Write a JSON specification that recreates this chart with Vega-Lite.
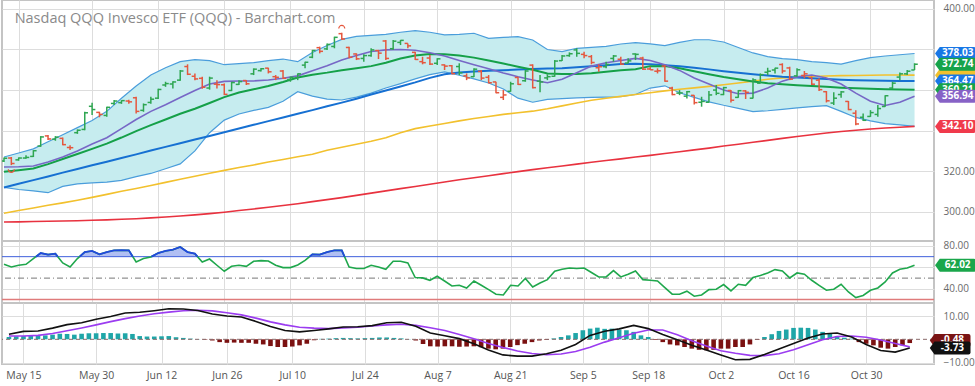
{
"$schema": "https://vega.github.io/schema/vega-lite/v6.json",
"padding": {"left": -2, "top": -1, "right": 0, "bottom": 0},
"background": "white",
"spacing": 0,
"bounds": "flush",
"config": {
  "font": "Open Sans",
  "view": {"stroke": "#c4c4c4", "strokeWidth": 2},
  "axis": {"domain": false, "ticks": false, "gridColor": "#dddddd", "gridWidth": 1, "labelFont": "Open Sans", "labelFontSize": 10, "labelColor": "#6a6a6a"}
},
"datasets": {
"ohlc": [
{"i":-2,"o":325.0,"h":326.8,"l":324.6,"c":326.4,"dir":"up"},
{"i":-1,"o":326.5,"h":327.0,"l":323.0,"c":323.8,"dir":"down"},
{"i":0,"o":325.6,"h":326.8,"l":325.2,"c":326.5,"dir":"up"},
{"i":1,"o":326.5,"h":327.9,"l":326.1,"c":326.8,"dir":"up"},
{"i":2,"o":327.3,"h":330.4,"l":327.0,"c":330.1,"dir":"up"},
{"i":3,"o":332.4,"h":337.3,"l":332.0,"c":336.9,"dir":"up"},
{"i":4,"o":337.4,"h":337.8,"l":335.4,"c":335.9,"dir":"down"},
{"i":5,"o":335.8,"h":337.3,"l":335.0,"c":336.8,"dir":"up"},
{"i":6,"o":336.2,"h":336.6,"l":332.8,"c":333.1,"dir":"down"},
{"i":7,"o":331.7,"h":332.8,"l":330.4,"c":331.6,"dir":"down"},
{"i":8,"o":339.0,"h":340.6,"l":338.4,"c":340.2,"dir":"up"},
{"i":9,"o":340.6,"h":349.3,"l":340.2,"c":348.8,"dir":"up"},
{"i":10,"o":352.0,"h":353.7,"l":347.7,"c":350.4,"dir":"up"},
{"i":11,"o":349.0,"h":349.3,"l":346.6,"c":348.0,"dir":"down"},
{"i":12,"o":347.5,"h":351.8,"l":346.8,"c":351.5,"dir":"up"},
{"i":13,"o":353.4,"h":355.1,"l":352.6,"c":354.6,"dir":"up"},
{"i":14,"o":353.8,"h":355.0,"l":353.2,"c":354.8,"dir":"up"},
{"i":15,"o":354.6,"h":355.2,"l":353.3,"c":354.2,"dir":"down"},
{"i":16,"o":356.2,"h":356.7,"l":348.5,"c":349.5,"dir":"down"},
{"i":17,"o":350.0,"h":353.4,"l":349.3,"c":352.8,"dir":"up"},
{"i":18,"o":353.9,"h":356.7,"l":353.3,"c":355.5,"dir":"up"},
{"i":19,"o":356.0,"h":360.6,"l":355.6,"c":360.3,"dir":"up"},
{"i":20,"o":362.5,"h":364.1,"l":361.6,"c":363.2,"dir":"up"},
{"i":21,"o":363.0,"h":364.3,"l":360.8,"c":364.0,"dir":"up"},
{"i":22,"o":364.9,"h":369.9,"l":364.6,"c":369.4,"dir":"up"},
{"i":23,"o":371.6,"h":372.7,"l":367.4,"c":367.8,"dir":"down"},
{"i":24,"o":366.8,"h":368.2,"l":364.9,"c":365.5,"dir":"down"},
{"i":25,"o":365.8,"h":366.6,"l":360.6,"c":361.4,"dir":"down"},
{"i":26,"o":361.0,"h":366.6,"l":360.2,"c":365.9,"dir":"up"},
{"i":27,"o":362.9,"h":364.9,"l":360.8,"c":362.7,"dir":"down"},
{"i":28,"o":362.6,"h":363.3,"l":357.5,"c":357.9,"dir":"down"},
{"i":29,"o":359.8,"h":364.1,"l":359.5,"c":363.7,"dir":"up"},
{"i":30,"o":362.8,"h":364.9,"l":362.5,"c":364.2,"dir":"up"},
{"i":31,"o":364.7,"h":364.9,"l":362.5,"c":363.1,"dir":"down"},
{"i":32,"o":368.0,"h":370.7,"l":367.4,"c":370.3,"dir":"up"},
{"i":33,"o":369.6,"h":370.9,"l":369.1,"c":370.5,"dir":"up"},
{"i":34,"o":370.8,"h":371.0,"l":368.2,"c":369.0,"dir":"down"},
{"i":35,"o":366.6,"h":367.4,"l":364.9,"c":366.3,"dir":"down"},
{"i":36,"o":369.4,"h":369.9,"l":365.4,"c":365.8,"dir":"down"},
{"i":37,"o":365.2,"h":366.6,"l":364.1,"c":366.3,"dir":"up"},
{"i":38,"o":366.0,"h":368.2,"l":364.9,"c":368.0,"dir":"up"},
{"i":39,"o":372.3,"h":374.0,"l":370.7,"c":373.7,"dir":"up"},
{"i":40,"o":376.2,"h":379.8,"l":375.7,"c":379.5,"dir":"up"},
{"i":41,"o":380.9,"h":381.4,"l":378.1,"c":379.1,"dir":"down"},
{"i":42,"o":380.3,"h":383.0,"l":379.8,"c":382.5,"dir":"up"},
{"i":43,"o":381.5,"h":386.3,"l":380.6,"c":386.0,"dir":"up"},
{"i":44,"o":387.8,"h":388.3,"l":384.7,"c":385.2,"dir":"down"},
{"i":45,"o":381.0,"h":381.4,"l":375.7,"c":376.2,"dir":"down"},
{"i":46,"o":377.8,"h":378.1,"l":374.8,"c":375.4,"dir":"down"},
{"i":47,"o":375.6,"h":377.6,"l":374.0,"c":377.0,"dir":"up"},
{"i":48,"o":377.0,"h":380.6,"l":376.4,"c":379.8,"dir":"up"},
{"i":49,"o":379.5,"h":379.8,"l":375.3,"c":378.2,"dir":"down"},
{"i":50,"o":384.2,"h":384.7,"l":374.8,"c":375.6,"dir":"down"},
{"i":51,"o":380.4,"h":384.7,"l":379.8,"c":384.1,"dir":"up"},
{"i":52,"o":383.5,"h":384.7,"l":382.2,"c":384.5,"dir":"up"},
{"i":53,"o":383.0,"h":383.0,"l":380.6,"c":381.8,"dir":"down"},
{"i":54,"o":378.6,"h":378.9,"l":374.8,"c":375.1,"dir":"down"},
{"i":55,"o":374.0,"h":376.4,"l":372.7,"c":373.5,"dir":"down"},
{"i":56,"o":375.8,"h":377.3,"l":372.3,"c":372.8,"dir":"down"},
{"i":57,"o":373.2,"h":375.7,"l":372.3,"c":375.4,"dir":"up"},
{"i":58,"o":372.4,"h":372.7,"l":369.9,"c":371.8,"dir":"down"},
{"i":59,"o":372.0,"h":372.3,"l":367.8,"c":368.1,"dir":"down"},
{"i":60,"o":371.6,"h":373.2,"l":367.4,"c":368.5,"dir":"up"},
{"i":61,"o":367.0,"h":368.2,"l":364.9,"c":366.0,"dir":"down"},
{"i":62,"o":366.6,"h":370.7,"l":366.4,"c":370.3,"dir":"up"},
{"i":63,"o":369.2,"h":369.9,"l":364.9,"c":365.9,"dir":"down"},
{"i":64,"o":366.3,"h":367.4,"l":363.3,"c":363.6,"dir":"down"},
{"i":65,"o":364.0,"h":364.1,"l":358.4,"c":358.7,"dir":"down"},
{"i":66,"o":356.4,"h":360.0,"l":355.1,"c":357.6,"dir":"down"},
{"i":67,"o":359.4,"h":364.1,"l":359.2,"c":363.1,"dir":"up"},
{"i":68,"o":366.2,"h":366.6,"l":362.5,"c":362.8,"dir":"down"},
{"i":69,"o":364.6,"h":369.9,"l":364.1,"c":369.4,"dir":"up"},
{"i":70,"o":372.3,"h":372.7,"l":360.8,"c":361.2,"dir":"down"},
{"i":71,"o":364.4,"h":367.4,"l":358.9,"c":364.0,"dir":"up"},
{"i":72,"o":366.0,"h":367.8,"l":364.9,"c":366.6,"dir":"up"},
{"i":73,"o":366.8,"h":374.8,"l":366.6,"c":374.3,"dir":"up"},
{"i":74,"o":374.5,"h":377.3,"l":374.3,"c":376.8,"dir":"up"},
{"i":75,"o":377.0,"h":378.6,"l":376.4,"c":377.9,"dir":"up"},
{"i":76,"o":379.8,"h":380.6,"l":376.4,"c":378.1,"dir":"up"},
{"i":77,"o":377.6,"h":378.9,"l":375.7,"c":377.0,"dir":"down"},
{"i":78,"o":376.5,"h":377.3,"l":372.7,"c":373.6,"dir":"down"},
{"i":79,"o":371.0,"h":372.7,"l":369.0,"c":371.5,"dir":"down"},
{"i":80,"o":371.5,"h":374.0,"l":370.7,"c":372.6,"dir":"up"},
{"i":81,"o":375.6,"h":377.3,"l":374.0,"c":376.8,"dir":"up"},
{"i":82,"o":375.2,"h":376.4,"l":372.3,"c":372.8,"dir":"down"},
{"i":83,"o":373.3,"h":375.7,"l":373.2,"c":374.4,"dir":"up"},
{"i":84,"o":377.8,"h":378.1,"l":374.8,"c":377.6,"dir":"up"},
{"i":85,"o":375.8,"h":376.4,"l":369.9,"c":370.3,"dir":"down"},
{"i":86,"o":370.4,"h":371.5,"l":369.9,"c":370.0,"dir":"down"},
{"i":87,"o":369.3,"h":370.7,"l":368.2,"c":369.5,"dir":"down"},
{"i":88,"o":371.8,"h":372.3,"l":364.1,"c":364.4,"dir":"down"},
{"i":89,"o":361.0,"h":361.6,"l":357.5,"c":357.8,"dir":"down"},
{"i":90,"o":358.5,"h":360.0,"l":357.5,"c":358.6,"dir":"up"},
{"i":91,"o":357.0,"h":359.5,"l":355.9,"c":359.2,"dir":"up"},
{"i":92,"o":357.4,"h":357.5,"l":352.9,"c":353.8,"dir":"down"},
{"i":93,"o":354.0,"h":356.7,"l":351.8,"c":354.4,"dir":"up"},
{"i":94,"o":354.0,"h":359.5,"l":353.9,"c":357.6,"dir":"up"},
{"i":95,"o":360.0,"h":362.5,"l":357.5,"c":358.4,"dir":"up"},
{"i":96,"o":357.8,"h":361.6,"l":357.5,"c":361.2,"dir":"up"},
{"i":97,"o":359.8,"h":360.0,"l":353.9,"c":355.0,"dir":"down"},
{"i":98,"o":356.4,"h":360.0,"l":356.2,"c":359.7,"dir":"up"},
{"i":99,"o":359.6,"h":360.0,"l":355.6,"c":358.9,"dir":"down"},
{"i":100,"o":356.0,"h":365.8,"l":355.9,"c":365.0,"dir":"up"},
{"i":101,"o":363.4,"h":368.2,"l":363.3,"c":367.6,"dir":"up"},
{"i":102,"o":368.8,"h":371.0,"l":367.4,"c":369.3,"dir":"up"},
{"i":103,"o":369.9,"h":371.0,"l":368.2,"c":370.8,"dir":"up"},
{"i":104,"o":372.6,"h":373.2,"l":368.2,"c":369.4,"dir":"down"},
{"i":105,"o":370.9,"h":371.5,"l":364.9,"c":365.4,"dir":"down"},
{"i":106,"o":367.0,"h":370.7,"l":366.6,"c":370.0,"dir":"up"},
{"i":107,"o":367.2,"h":369.4,"l":365.8,"c":368.0,"dir":"down"},
{"i":108,"o":366.2,"h":366.6,"l":362.5,"c":362.9,"dir":"down"},
{"i":109,"o":364.9,"h":365.8,"l":359.5,"c":360.2,"dir":"down"},
{"i":110,"o":359.2,"h":359.5,"l":353.9,"c":354.7,"dir":"down"},
{"i":111,"o":353.6,"h":358.9,"l":352.6,"c":356.0,"dir":"up"},
{"i":112,"o":357.8,"h":359.5,"l":356.2,"c":359.1,"dir":"up"},
{"i":113,"o":354.4,"h":354.6,"l":350.1,"c":350.4,"dir":"down"},
{"i":114,"o":348.6,"h":350.1,"l":342.7,"c":343.3,"dir":"down"},
{"i":115,"o":346.6,"h":348.5,"l":344.7,"c":345.1,"dir":"up"},
{"i":116,"o":347.0,"h":350.1,"l":346.8,"c":348.9,"dir":"up"},
{"i":117,"o":348.0,"h":352.6,"l":346.8,"c":350.9,"dir":"up"},
{"i":118,"o":351.9,"h":357.5,"l":351.8,"c":357.2,"dir":"up"},
{"i":119,"o":361.0,"h":364.1,"l":360.5,"c":363.4,"dir":"up"},
{"i":120,"o":366.4,"h":368.7,"l":364.9,"c":368.0,"dir":"up"},
{"i":121,"o":368.0,"h":369.9,"l":367.4,"c":369.3,"dir":"up"},
{"i":122,"o":369.9,"h":373.2,"l":369.9,"c":372.74,"dir":"up"}
],
"ln": [
{"i":-2,"bu":327,"bl":312,"ma20":319.7,"ma10":322.1,"ma50":312.0,"ma100":299.3,"ma200":295.0,"macd":2.2,"sig":1.4},
{"i":0,"bu":329,"bl":311,"ma20":320.5,"ma10":322.2,"ma50":313.8,"ma100":300.6,"ma200":295.05,"macd":3.4,"sig":1.44},
{"i":2,"bu":331,"bl":310.3,"ma20":321.3,"ma10":322.6,"ma50":315.6,"ma100":301.9,"ma200":295.2,"macd":3.6,"sig":1.7},
{"i":4,"bu":334.5,"bl":309.4,"ma20":323.5,"ma10":324.5,"ma50":317.4,"ma100":303.2,"ma200":295.3,"macd":4.8,"sig":2.5},
{"i":6,"bu":338,"bl":312.5,"ma20":326,"ma10":327,"ma50":319.3,"ma100":304.4,"ma200":295.45,"macd":6.3,"sig":3.7},
{"i":8,"bu":341.5,"bl":313.8,"ma20":328.5,"ma10":330,"ma50":321.1,"ma100":305.7,"ma200":295.6,"macd":7.1,"sig":4.9},
{"i":10,"bu":345,"bl":314.3,"ma20":331,"ma10":333.4,"ma50":322.9,"ma100":307.1,"ma200":295.8,"macd":8.6,"sig":6.2},
{"i":12,"bu":349.5,"bl":314.6,"ma20":333.6,"ma10":336.5,"ma50":324.7,"ma100":308.6,"ma200":296.0,"macd":9.8,"sig":7.6},
{"i":14,"bu":356,"bl":315.5,"ma20":336.6,"ma10":341,"ma50":326.5,"ma100":310.1,"ma200":296.3,"macd":11.3,"sig":8.9},
{"i":16,"bu":362,"bl":317.3,"ma20":339.8,"ma10":345.5,"ma50":328.3,"ma100":311.5,"ma200":296.6,"macd":11.6,"sig":10.0},
{"i":18,"bu":367.4,"bl":318.9,"ma20":342.7,"ma10":349.5,"ma50":330.2,"ma100":313,"ma200":297.0,"macd":12.3,"sig":11.0},
{"i":20,"bu":371,"bl":321.2,"ma20":345.5,"ma10":352.8,"ma50":332,"ma100":314.5,"ma200":297.4,"macd":13.1,"sig":11.7},
{"i":22,"bu":374,"bl":323.6,"ma20":348.3,"ma10":356.3,"ma50":333.8,"ma100":316,"ma200":297.9,"macd":13.0,"sig":12.3},
{"i":24,"bu":375,"bl":330,"ma20":350.8,"ma10":359.8,"ma50":335.6,"ma100":317.5,"ma200":298.5,"macd":12.4,"sig":12.5},
{"i":26,"bu":374.5,"bl":339,"ma20":353.6,"ma10":363,"ma50":337.4,"ma100":319,"ma200":299.1,"macd":10.9,"sig":12.2},
{"i":28,"bu":372.5,"bl":345.2,"ma20":356.5,"ma10":364.3,"ma50":339.2,"ma100":320.4,"ma200":299.8,"macd":10.0,"sig":11.4},
{"i":30,"bu":373,"bl":348.2,"ma20":358.8,"ma10":364.5,"ma50":341.1,"ma100":321.8,"ma200":300.6,"macd":9.6,"sig":10.5},
{"i":32,"bu":373.5,"bl":350,"ma20":360.4,"ma10":364.5,"ma50":342.9,"ma100":323.1,"ma200":301.4,"macd":7.7,"sig":9.1},
{"i":34,"bu":374.5,"bl":351.5,"ma20":362,"ma10":365,"ma50":344.7,"ma100":324.5,"ma200":302.2,"macd":5.5,"sig":7.5},
{"i":36,"bu":375.3,"bl":354.5,"ma20":364,"ma10":365.8,"ma50":346.5,"ma100":325.8,"ma200":303.1,"macd":3.8,"sig":6.2},
{"i":38,"bu":374,"bl":359.2,"ma20":366.2,"ma10":367,"ma50":348.3,"ma100":327.1,"ma200":304.0,"macd":3.2,"sig":5.2},
{"i":40,"bu":378.5,"bl":357,"ma20":367.6,"ma10":369.5,"ma50":350.1,"ma100":328.4,"ma200":305.0,"macd":3.8,"sig":4.8},
{"i":42,"bu":382,"bl":355.5,"ma20":368.6,"ma10":372,"ma50":352,"ma100":330.3,"ma200":306.0,"macd":4.5,"sig":4.6},
{"i":44,"bu":385,"bl":355.1,"ma20":369.8,"ma10":374.8,"ma50":353.8,"ma100":331.8,"ma200":307.0,"macd":5.3,"sig":4.9},
{"i":46,"bu":386.5,"bl":356.5,"ma20":370.8,"ma10":377,"ma50":355.7,"ma100":333.3,"ma200":308.1,"macd":5.4,"sig":5.2},
{"i":48,"bu":387,"bl":358.5,"ma20":371.8,"ma10":379,"ma50":357.8,"ma100":334.8,"ma200":309.2,"macd":5.9,"sig":5.7},
{"i":50,"bu":387.5,"bl":361,"ma20":373.5,"ma10":379.8,"ma50":359.8,"ma100":336.5,"ma200":310.3,"macd":7.1,"sig":6.2},
{"i":52,"bu":388.5,"bl":363.2,"ma20":375.6,"ma10":380,"ma50":361.8,"ma100":339,"ma200":311.4,"macd":7.3,"sig":6.5},
{"i":54,"bu":389.3,"bl":365.5,"ma20":377,"ma10":379.6,"ma50":363.8,"ma100":341,"ma200":312.5,"macd":5.6,"sig":6.0},
{"i":56,"bu":388.5,"bl":367.6,"ma20":377.8,"ma10":378.4,"ma50":366,"ma100":342.3,"ma200":313.6,"macd":2.7,"sig":5.0},
{"i":58,"bu":387.2,"bl":369,"ma20":377.7,"ma10":376.8,"ma50":367.8,"ma100":343.5,"ma200":314.7,"macd":1.5,"sig":3.8},
{"i":60,"bu":387.5,"bl":367.3,"ma20":377,"ma10":374.6,"ma50":368.7,"ma100":344.8,"ma200":315.8,"macd":0.3,"sig":2.1},
{"i":62,"bu":388,"bl":365.5,"ma20":376,"ma10":372.5,"ma50":369.2,"ma100":346,"ma200":316.8,"macd":-1.9,"sig":0.2},
{"i":64,"bu":385.5,"bl":363.5,"ma20":374.6,"ma10":370.5,"ma50":369.5,"ma100":347,"ma200":317.8,"macd":-4.6,"sig":-1.8},
{"i":66,"bu":386,"bl":360.5,"ma20":373.1,"ma10":368.4,"ma50":369.8,"ma100":348,"ma200":318.8,"macd":-6.7,"sig":-3.5},
{"i":68,"bu":386.3,"bl":356,"ma20":371.5,"ma10":366.6,"ma50":370.1,"ma100":348.8,"ma200":319.8,"macd":-7.2,"sig":-5.0},
{"i":70,"bu":384.7,"bl":354,"ma20":370,"ma10":365,"ma50":370.4,"ma100":349.6,"ma200":320.8,"macd":-7.2,"sig":-6.1},
{"i":72,"bu":380,"bl":355.4,"ma20":368.2,"ma10":363.6,"ma50":370.6,"ma100":350.8,"ma200":321.7,"macd":-6.2,"sig":-6.6},
{"i":74,"bu":379,"bl":355.8,"ma20":367.9,"ma10":365.3,"ma50":370.8,"ma100":352.2,"ma200":322.6,"macd":-4.7,"sig":-6.3},
{"i":76,"bu":380.6,"bl":356.2,"ma20":367.9,"ma10":368.5,"ma50":371.2,"ma100":353.6,"ma200":323.5,"macd":-2.2,"sig":-5.2},
{"i":78,"bu":381,"bl":356.4,"ma20":368.3,"ma10":371.8,"ma50":371.7,"ma100":355,"ma200":324.4,"macd":1.7,"sig":-3.4},
{"i":80,"bu":381.5,"bl":356.5,"ma20":369,"ma10":373.5,"ma50":372.2,"ma100":356,"ma200":325.3,"macd":3.5,"sig":-1.2},
{"i":82,"bu":382.7,"bl":356.7,"ma20":369.8,"ma10":374.6,"ma50":372.8,"ma100":356.9,"ma200":326.1,"macd":4.5,"sig":0.7},
{"i":84,"bu":383.4,"bl":357.8,"ma20":370.3,"ma10":375.6,"ma50":373,"ma100":357.8,"ma200":327.0,"macd":6.0,"sig":2.6},
{"i":86,"bu":382.8,"bl":361,"ma20":371.8,"ma10":374.6,"ma50":372.7,"ma100":358.7,"ma200":327.8,"macd":4.6,"sig":4.0},
{"i":88,"bu":381.9,"bl":362.1,"ma20":371.8,"ma10":372.5,"ma50":372.2,"ma100":359.6,"ma200":328.7,"macd":2.1,"sig":4.0},
{"i":90,"bu":383.5,"bl":358.7,"ma20":370.8,"ma10":369.7,"ma50":371.8,"ma100":360.4,"ma200":329.6,"macd":-0.2,"sig":2.0},
{"i":92,"bu":384.8,"bl":356.4,"ma20":369.3,"ma10":366,"ma50":371,"ma100":361.1,"ma200":330.5,"macd":-2.5,"sig":-0.6},
{"i":94,"bu":384.8,"bl":354.2,"ma20":367.8,"ma10":363,"ma50":370.2,"ma100":361.8,"ma200":331.4,"macd":-4.6,"sig":-2.9},
{"i":96,"bu":383.7,"bl":352.5,"ma20":366.4,"ma10":360,"ma50":369.3,"ma100":362.6,"ma200":332.4,"macd":-6.7,"sig":-4.9},
{"i":98,"bu":381,"bl":351,"ma20":365.3,"ma10":358.2,"ma50":368.5,"ma100":363.5,"ma200":333.3,"macd":-8.8,"sig":-6.0},
{"i":100,"bu":378.3,"bl":349.4,"ma20":364.2,"ma10":358.5,"ma50":367.8,"ma100":364.4,"ma200":334.3,"macd":-8.6,"sig":-6.9},
{"i":102,"bu":376.5,"bl":349.8,"ma20":363.4,"ma10":361,"ma50":367.2,"ma100":365.3,"ma200":335.2,"macd":-6.5,"sig":-7.0},
{"i":104,"bu":375.5,"bl":350.5,"ma20":362.9,"ma10":364.4,"ma50":366.6,"ma100":366,"ma200":336.2,"macd":-4.2,"sig":-6.2},
{"i":106,"bu":375,"bl":351.2,"ma20":362.4,"ma10":366.5,"ma50":366.2,"ma100":366.4,"ma200":337.1,"macd":-1.8,"sig":-4.5},
{"i":108,"bu":374,"bl":351.8,"ma20":362,"ma10":367.4,"ma50":365.8,"ma100":366.7,"ma200":338.0,"macd":0.6,"sig":-2.3},
{"i":110,"bu":373.5,"bl":352.3,"ma20":361.6,"ma10":366,"ma50":365.4,"ma100":366.9,"ma200":338.8,"macd":2.3,"sig":-0.2},
{"i":112,"bu":372.8,"bl":349.5,"ma20":361.2,"ma10":363,"ma50":365.1,"ma100":367.1,"ma200":339.6,"macd":2.7,"sig":1.2},
{"i":114,"bu":374.5,"bl":346.5,"ma20":360.9,"ma10":358.5,"ma50":364.9,"ma100":367.2,"ma200":340.2,"macd":1.0,"sig":1.4},
{"i":116,"bu":376,"bl":344.8,"ma20":360.6,"ma10":354.5,"ma50":364.7,"ma100":367.3,"ma200":340.8,"macd":-2.2,"sig":0.9},
{"i":118,"bu":376.8,"bl":343.5,"ma20":360.4,"ma10":352.4,"ma50":364.6,"ma100":367.4,"ma200":341.3,"macd":-4.8,"sig":-0.3},
{"i":120,"bu":377.4,"bl":342.8,"ma20":360.3,"ma10":354,"ma50":364.5,"ma100":367.4,"ma200":341.7,"macd":-5.5,"sig":-1.8},
{"i":122,"bu":378.03,"bl":342.1,"ma20":360.21,"ma10":356.94,"ma50":364.47,"ma100":367.35,"ma200":342.1,"macd":-3.73,"sig":-3.25}
],
"osc": [
{"i":-2,"rsi":62.9,"hist":1.0},{"i":-1,"rsi":60.4,"hist":1.3},{"i":0,"rsi":62.0,"hist":1.4},{"i":1,"rsi":62.9,"hist":1.7},
{"i":2,"rsi":68.2,"hist":1.6},{"i":3,"rsi":73.4,"hist":1.7},{"i":4,"rsi":71.9,"hist":2.0},{"i":5,"rsi":72.8,"hist":2.4},
{"i":6,"rsi":64.1,"hist":2.3},{"i":7,"rsi":60.4,"hist":2.0},{"i":8,"rsi":68.2,"hist":2.4},{"i":9,"rsi":74.3,"hist":2.6},
{"i":10,"rsi":75.3,"hist":2.6},{"i":11,"rsi":72.2,"hist":2.7},{"i":12,"rsi":74.3,"hist":2.7},{"i":13,"rsi":75.9,"hist":2.5},
{"i":14,"rsi":76.0,"hist":2.6},{"i":15,"rsi":75.9,"hist":2.3},{"i":16,"rsi":65.0,"hist":1.4},{"i":17,"rsi":68.2,"hist":1.2},
{"i":18,"rsi":69.7,"hist":1.2},{"i":19,"rsi":73.4,"hist":1.3},{"i":20,"rsi":75.3,"hist":1.4},{"i":21,"rsi":76.5,"hist":0.9},
{"i":22,"rsi":79.0,"hist":0.6},{"i":23,"rsi":74.3,"hist":0.3},{"i":24,"rsi":72.8,"hist":0.1},{"i":25,"rsi":65.0,"hist":-0.2},
{"i":26,"rsi":67.8,"hist":-0.5},{"i":27,"rsi":62.0,"hist":-1.2},{"i":28,"rsi":56.4,"hist":-1.5},{"i":29,"rsi":61.0,"hist":-1.4},
{"i":30,"rsi":62.0,"hist":-1.5},{"i":31,"rsi":61.0,"hist":-1.5},{"i":32,"rsi":65.7,"hist":-1.9},{"i":33,"rsi":66.3,"hist":-2.2},
{"i":34,"rsi":66.0,"hist":-2.9},{"i":35,"rsi":62.0,"hist":-3.3},{"i":36,"rsi":59.8,"hist":-3.3},{"i":37,"rsi":59.8,"hist":-3.1},
{"i":38,"rsi":62.2,"hist":-2.6},{"i":39,"rsi":66.5,"hist":-1.9},{"i":40,"rsi":72.2,"hist":-0.4},{"i":41,"rsi":71.9,"hist":0.2},
{"i":42,"rsi":74.3,"hist":0.3},{"i":43,"rsi":75.9,"hist":0.5},{"i":44,"rsi":75.9,"hist":0.6},{"i":45,"rsi":60.4,"hist":0.5},
{"i":46,"rsi":58.9,"hist":0.4},{"i":47,"rsi":58.9,"hist":0.5},{"i":48,"rsi":62.0,"hist":0.6},{"i":49,"rsi":60.4,"hist":0.8},
{"i":50,"rsi":58.2,"hist":0.8},{"i":51,"rsi":65.7,"hist":0.6},{"i":52,"rsi":65.7,"hist":0.4},{"i":53,"rsi":64.1,"hist":0.1},
{"i":54,"rsi":50.5,"hist":-0.5},{"i":55,"rsi":50.2,"hist":-2.0},{"i":56,"rsi":48.0,"hist":-3.0},{"i":57,"rsi":51.7,"hist":-3.1},
{"i":58,"rsi":47.3,"hist":-3.0},{"i":59,"rsi":42.7,"hist":-3.0},{"i":60,"rsi":43.3,"hist":-3.2},{"i":61,"rsi":40.8,"hist":-3.1},
{"i":62,"rsi":47.3,"hist":-3.0},{"i":63,"rsi":43.3,"hist":-3.4},{"i":64,"rsi":39.3,"hist":-4.0},{"i":65,"rsi":35.0,"hist":-4.3},
{"i":66,"rsi":34.3,"hist":-4.0},{"i":67,"rsi":43.3,"hist":-3.3},{"i":68,"rsi":42.7,"hist":-2.5},{"i":69,"rsi":49.6,"hist":-1.9},
{"i":70,"rsi":41.8,"hist":-1.2},{"i":71,"rsi":45.5,"hist":-0.5},{"i":72,"rsi":48.6,"hist":-0.3},{"i":73,"rsi":56.4,"hist":0.4},
{"i":74,"rsi":58.2,"hist":1.0},{"i":75,"rsi":59.4,"hist":1.7},{"i":76,"rsi":58.9,"hist":2.7},{"i":77,"rsi":59.4,"hist":3.9},
{"i":78,"rsi":55.2,"hist":4.6},{"i":79,"rsi":51.1,"hist":5.0},{"i":80,"rsi":51.1,"hist":4.5},{"i":81,"rsi":57.0,"hist":4.6},
{"i":82,"rsi":51.1,"hist":4.2},{"i":83,"rsi":53.6,"hist":3.9},{"i":84,"rsi":56.7,"hist":3.2},{"i":85,"rsi":48.6,"hist":1.7},
{"i":86,"rsi":48.0,"hist":1.0},{"i":87,"rsi":47.3,"hist":-0.3},{"i":88,"rsi":41.2,"hist":-1.2},{"i":89,"rsi":35.0,"hist":-2.2},
{"i":90,"rsi":35.0,"hist":-2.6},{"i":91,"rsi":37.8,"hist":-3.3},{"i":92,"rsi":33.1,"hist":-4.0},{"i":93,"rsi":34.3,"hist":-4.5},
{"i":94,"rsi":39.3,"hist":-4.7},{"i":95,"rsi":39.6,"hist":-4.5},{"i":96,"rsi":44.0,"hist":-4.0},{"i":97,"rsi":38.1,"hist":-4.0},
{"i":98,"rsi":44.3,"hist":-3.3},{"i":99,"rsi":43.3,"hist":-3.3},{"i":100,"rsi":50.5,"hist":-2.2},{"i":101,"rsi":52.4,"hist":-0.3},
{"i":102,"rsi":54.8,"hist":1.0},{"i":103,"rsi":57.9,"hist":2.2},{"i":104,"rsi":56.7,"hist":3.6},{"i":105,"rsi":50.2,"hist":4.2},
{"i":106,"rsi":54.8,"hist":4.9},{"i":107,"rsi":53.6,"hist":5.0},{"i":108,"rsi":48.0,"hist":4.9},{"i":109,"rsi":43.3,"hist":4.2},
{"i":110,"rsi":38.7,"hist":3.2},{"i":111,"rsi":39.6,"hist":2.4},{"i":112,"rsi":44.3,"hist":1.4},{"i":113,"rsi":37.1,"hist":0.7},
{"i":114,"rsi":31.9,"hist":0.3},{"i":115,"rsi":33.8,"hist":-1.2},{"i":116,"rsi":38.7,"hist":-1.9},{"i":117,"rsi":40.8,"hist":-2.6},
{"i":118,"rsi":46.4,"hist":-3.6},{"i":119,"rsi":54.8,"hist":-4.0},{"i":120,"rsi":58.2,"hist":-3.3},{"i":121,"rsi":59.4,"hist":-2.6},
{"i":122,"rsi":62.02,"hist":-1.6}
],
"ob": [
{"seg":"a","i":2.35,"rsi":70},{"seg":"a","i":3,"rsi":73.4},{"seg":"a","i":4,"rsi":71.9},{"seg":"a","i":5,"rsi":72.8},{"seg":"a","i":5.32,"rsi":70},
{"seg":"b","i":8.3,"rsi":70},{"seg":"b","i":9,"rsi":74.3},{"seg":"b","i":10,"rsi":75.3},{"seg":"b","i":11,"rsi":72.2},{"seg":"b","i":12,"rsi":74.3},{"seg":"b","i":13,"rsi":75.9},{"seg":"b","i":14,"rsi":76.0},{"seg":"b","i":15,"rsi":75.9},{"seg":"b","i":15.54,"rsi":70},
{"seg":"c","i":18.08,"rsi":70},{"seg":"c","i":19,"rsi":73.4},{"seg":"c","i":20,"rsi":75.3},{"seg":"c","i":21,"rsi":76.5},{"seg":"c","i":22,"rsi":79.0},{"seg":"c","i":23,"rsi":74.3},{"seg":"c","i":24,"rsi":72.8},{"seg":"c","i":24.36,"rsi":70},
{"seg":"d","i":39.61,"rsi":70},{"seg":"d","i":40,"rsi":72.2},{"seg":"d","i":41,"rsi":71.9},{"seg":"d","i":42,"rsi":74.3},{"seg":"d","i":43,"rsi":75.9},{"seg":"d","i":44,"rsi":75.9},{"seg":"d","i":44.38,"rsi":70}
],
"tags": [
{"k":"ma100","v":367.35,"t":"367.35"},
{"k":"bbu","v":378.03,"t":"378.03"},
{"k":"last","v":372.74,"t":"372.74"},
{"k":"ma50","v":364.47,"t":"364.47"},
{"k":"bbm","v":360.21,"t":"360.21"},
{"k":"ma10","v":356.94,"t":"356.94"},
{"k":"ma200","v":342.10,"t":"342.10"},
{"k":"rsi","v":62.02,"t":"62.02"},
{"k":"hist","v":-0.48,"t":"-0.48"},
{"k":"macd","v":-3.73,"t":"-3.73"}
],
"hl": [
{"k":"hi","i":44,"v":388.3},
{"k":"lo","i":-1,"v":323.0}
]
},
"vconcat": [
{
 "width": 932, "height": 241,
 "resolve": {"axis": {"x": "independent", "y": "independent"}},
 "layer": [
  {"data": {"name": "ln"}, "mark": {"type": "area", "color": "#c6ecef", "opacity": 1},
   "encoding": {
    "x": {"field": "i", "type": "quantitative", "scale": {"domain": [-2.27, 124.65], "nice": false, "zero": false}, "axis": {"orient": "bottom", "values": [0,10,19,28,37,47,57,67,77,86,96,106,116], "labels": false, "grid": true, "title": null}},
    "y": {"field": "bu", "type": "quantitative", "scale": {"domain": [285.6, 404.4], "nice": false, "zero": false}, "axis": {"orient": "right", "values": [300,320,340,360,380,400], "labelExpr": "indexof([300,320,400], datum.value) >= 0 ? format(datum.value, '.2f') : ''", "grid": true, "title": null, "labelPadding": 9}},
    "y2": {"field": "bl"}}},
  {"data": {"name": "ln"}, "mark": {"type": "line", "color": "#4a9ddb", "strokeWidth": 1.2}, "encoding": {"x": {"field": "i", "type": "quantitative", "scale": {"domain": [-2.27, 124.65], "nice": false, "zero": false}, "axis": null}, "y": {"field": "bu", "type": "quantitative", "scale": {"domain": [285.6, 404.4], "nice": false, "zero": false}, "axis": null}}},
  {"data": {"name": "ln"}, "mark": {"type": "line", "color": "#4a9ddb", "strokeWidth": 1.2}, "encoding": {"x": {"field": "i", "type": "quantitative", "scale": {"domain": [-2.27, 124.65], "nice": false, "zero": false}, "axis": null}, "y": {"field": "bl", "type": "quantitative", "scale": {"domain": [285.6, 404.4], "nice": false, "zero": false}, "axis": null}}},
  {"data": {"name": "ln"}, "mark": {"type": "line", "color": "#e8323f", "strokeWidth": 1.6}, "encoding": {"x": {"field": "i", "type": "quantitative", "scale": {"domain": [-2.27, 124.65], "nice": false, "zero": false}, "axis": null}, "y": {"field": "ma200", "type": "quantitative", "scale": {"domain": [285.6, 404.4], "nice": false, "zero": false}, "axis": null}}},
  {"data": {"name": "ln"}, "mark": {"type": "line", "color": "#f2c12e", "strokeWidth": 1.6}, "encoding": {"x": {"field": "i", "type": "quantitative", "scale": {"domain": [-2.27, 124.65], "nice": false, "zero": false}, "axis": null}, "y": {"field": "ma100", "type": "quantitative", "scale": {"domain": [285.6, 404.4], "nice": false, "zero": false}, "axis": null}}},
  {"data": {"name": "ln"}, "mark": {"type": "line", "color": "#1670d2", "strokeWidth": 2}, "encoding": {"x": {"field": "i", "type": "quantitative", "scale": {"domain": [-2.27, 124.65], "nice": false, "zero": false}, "axis": null}, "y": {"field": "ma50", "type": "quantitative", "scale": {"domain": [285.6, 404.4], "nice": false, "zero": false}, "axis": null}}},
  {"data": {"name": "ln"}, "mark": {"type": "line", "color": "#15a048", "strokeWidth": 2}, "encoding": {"x": {"field": "i", "type": "quantitative", "scale": {"domain": [-2.27, 124.65], "nice": false, "zero": false}, "axis": null}, "y": {"field": "ma20", "type": "quantitative", "scale": {"domain": [285.6, 404.4], "nice": false, "zero": false}, "axis": null}}},
  {"data": {"name": "ln"}, "mark": {"type": "line", "color": "#7767c6", "strokeWidth": 1.6}, "encoding": {"x": {"field": "i", "type": "quantitative", "scale": {"domain": [-2.27, 124.65], "nice": false, "zero": false}, "axis": null}, "y": {"field": "ma10", "type": "quantitative", "scale": {"domain": [285.6, 404.4], "nice": false, "zero": false}, "axis": null}}},
  {"data": {"name": "ohlc"}, "mark": {"type": "rule", "strokeWidth": 1.5, "clip": true},
   "encoding": {"x": {"field": "i", "type": "quantitative", "scale": {"domain": [-2.27, 124.65], "nice": false, "zero": false}, "axis": null}, "y": {"field": "l", "type": "quantitative", "scale": {"domain": [285.6, 404.4], "nice": false, "zero": false}, "axis": null}, "y2": {"field": "h"}, "color": {"condition": {"test": "datum.dir == 'up'", "value": "#2ea651"}, "value": "#e5573e"}}},
  {"data": {"name": "ohlc"}, "mark": {"type": "point", "shape": "M-1,0L0,0", "size": 42, "filled": false, "strokeWidth": 1.5, "opacity": 1, "clip": true},
   "encoding": {"x": {"field": "i", "type": "quantitative", "scale": {"domain": [-2.27, 124.65], "nice": false, "zero": false}, "axis": null}, "y": {"field": "o", "type": "quantitative", "scale": {"domain": [285.6, 404.4], "nice": false, "zero": false}, "axis": null}, "color": {"condition": {"test": "datum.dir == 'up'", "value": "#2ea651"}, "value": "#e5573e"}}},
  {"data": {"name": "ohlc"}, "mark": {"type": "point", "shape": "M0,0L1,0", "size": 42, "filled": false, "strokeWidth": 1.5, "opacity": 1, "clip": true},
   "encoding": {"x": {"field": "i", "type": "quantitative", "scale": {"domain": [-2.27, 124.65], "nice": false, "zero": false}, "axis": null}, "y": {"field": "c", "type": "quantitative", "scale": {"domain": [285.6, 404.4], "nice": false, "zero": false}, "axis": null}, "color": {"condition": {"test": "datum.dir == 'up'", "value": "#2ea651"}, "value": "#e5573e"}}},
  {"data": {"name": "hl"}, "transform": [{"filter": "datum.k == 'hi'"}], "mark": {"type": "point", "shape": "M-1,-1.4A1,1,0,0,1,1,-1.4", "size": 36, "filled": false, "strokeWidth": 1.2, "opacity": 1, "color": "#e5573e"},
   "encoding": {"x": {"field": "i", "type": "quantitative", "scale": {"domain": [-2.27, 124.65], "nice": false, "zero": false}, "axis": null}, "y": {"field": "v", "type": "quantitative", "scale": {"domain": [285.6, 404.4], "nice": false, "zero": false}, "axis": null}}},
  {"data": {"name": "hl"}, "transform": [{"filter": "datum.k == 'lo'"}], "mark": {"type": "point", "shape": "M-1,1.4A1,1,0,0,0,1,1.4", "size": 36, "filled": false, "strokeWidth": 1.2, "opacity": 1, "color": "#e5573e"},
   "encoding": {"x": {"field": "i", "type": "quantitative", "scale": {"domain": [-2.27, 124.65], "nice": false, "zero": false}, "axis": null}, "y": {"field": "v", "type": "quantitative", "scale": {"domain": [285.6, 404.4], "nice": false, "zero": false}, "axis": null}}},
  {"data": {"values": [{}]}, "mark": {"type": "text", "text": "Nasdaq QQQ Invesco ETF (QQQ) - Barchart.com", "align": "left", "baseline": "alphabetic", "font": "Open Sans", "fontSize": 14.5, "color": "#8a8a8a"},
   "encoding": {"x": {"datum": -0.55, "type": "quantitative", "scale": {"domain": [-2.27, 124.65], "nice": false, "zero": false}, "axis": null}, "y": {"datum": 392.9, "type": "quantitative", "scale": {"domain": [285.6, 404.4], "nice": false, "zero": false}, "axis": null}}},
  {"data": {"name": "tags"}, "transform": [{"filter": {"field": "k", "oneOf": ["ma100","bbu","last","ma50"]}}],
   "mark": {"type": "point", "shape": "M-2.07,0L-1.6,-0.65L1.8,-0.65Q2,-0.65,2,-0.45L2,0.45Q2,0.65,1.8,0.65L-1.6,0.65Z", "size": 400, "filled": true, "opacity": 1, "strokeWidth": 0},
   "encoding": {"x": {"datum": 127.61, "type": "quantitative", "scale": {"domain": [-2.27, 124.65], "nice": false, "zero": false}, "axis": null}, "y": {"field": "v", "type": "quantitative", "scale": {"domain": [285.6, 404.4], "nice": false, "zero": false}, "axis": null},
    "color": {"field": "k", "type": "nominal", "legend": null, "scale": {"domain": ["ma100","bbu","last","ma50","bbm","ma10","ma200","rsi","hist","macd"], "range": ["#f2c12e","#1877e6","#16a34a","#1877e6","#16a34a","#8762c6","#f03a4c","#1aa64b","#7a1414","#111111"]}}}},
  {"data": {"name": "tags"}, "transform": [{"filter": {"field": "k", "oneOf": ["bbu","last","ma50"]}}],
   "mark": {"type": "text", "font": "Open Sans", "fontSize": 10, "fontWeight": "bold", "color": "white", "align": "center", "baseline": "middle"},
   "encoding": {"x": {"datum": 127.88, "type": "quantitative", "scale": {"domain": [-2.27, 124.65], "nice": false, "zero": false}, "axis": null}, "y": {"field": "v", "type": "quantitative", "scale": {"domain": [285.6, 404.4], "nice": false, "zero": false}, "axis": null}, "text": {"field": "t"}}},
  {"data": {"name": "tags"}, "transform": [{"filter": {"field": "k", "oneOf": ["bbm"]}}],
   "mark": {"type": "point", "shape": "M-2.07,0L-1.6,-0.65L1.8,-0.65Q2,-0.65,2,-0.45L2,0.45Q2,0.65,1.8,0.65L-1.6,0.65Z", "size": 400, "filled": true, "opacity": 1, "strokeWidth": 0},
   "encoding": {"x": {"datum": 127.61, "type": "quantitative", "scale": {"domain": [-2.27, 124.65], "nice": false, "zero": false}, "axis": null}, "y": {"field": "v", "type": "quantitative", "scale": {"domain": [285.6, 404.4], "nice": false, "zero": false}, "axis": null},
    "color": {"field": "k", "type": "nominal", "legend": null, "scale": {"domain": ["ma100","bbu","last","ma50","bbm","ma10","ma200","rsi","hist","macd"], "range": ["#f2c12e","#1877e6","#16a34a","#1877e6","#16a34a","#8762c6","#f03a4c","#1aa64b","#7a1414","#111111"]}}}},
  {"data": {"name": "tags"}, "transform": [{"filter": {"field": "k", "oneOf": ["bbm"]}}],
   "mark": {"type": "text", "font": "Open Sans", "fontSize": 10, "fontWeight": "bold", "color": "white", "align": "center", "baseline": "middle"},
   "encoding": {"x": {"datum": 127.88, "type": "quantitative", "scale": {"domain": [-2.27, 124.65], "nice": false, "zero": false}, "axis": null}, "y": {"field": "v", "type": "quantitative", "scale": {"domain": [285.6, 404.4], "nice": false, "zero": false}, "axis": null}, "text": {"field": "t"}}},
  {"data": {"name": "tags"}, "transform": [{"filter": {"field": "k", "oneOf": ["ma10","ma200"]}}],
   "mark": {"type": "point", "shape": "M-2.07,0L-1.6,-0.65L1.8,-0.65Q2,-0.65,2,-0.45L2,0.45Q2,0.65,1.8,0.65L-1.6,0.65Z", "size": 400, "filled": true, "opacity": 1, "strokeWidth": 0},
   "encoding": {"x": {"datum": 127.61, "type": "quantitative", "scale": {"domain": [-2.27, 124.65], "nice": false, "zero": false}, "axis": null}, "y": {"field": "v", "type": "quantitative", "scale": {"domain": [285.6, 404.4], "nice": false, "zero": false}, "axis": null},
    "color": {"field": "k", "type": "nominal", "legend": null, "scale": {"domain": ["ma100","bbu","last","ma50","bbm","ma10","ma200","rsi","hist","macd"], "range": ["#f2c12e","#1877e6","#16a34a","#1877e6","#16a34a","#8762c6","#f03a4c","#1aa64b","#7a1414","#111111"]}}}},
  {"data": {"name": "tags"}, "transform": [{"filter": {"field": "k", "oneOf": ["ma10","ma200"]}}],
   "mark": {"type": "text", "font": "Open Sans", "fontSize": 10, "fontWeight": "bold", "color": "white", "align": "center", "baseline": "middle"},
   "encoding": {"x": {"datum": 127.88, "type": "quantitative", "scale": {"domain": [-2.27, 124.65], "nice": false, "zero": false}, "axis": null}, "y": {"field": "v", "type": "quantitative", "scale": {"domain": [285.6, 404.4], "nice": false, "zero": false}, "axis": null}, "text": {"field": "t"}}}
 ]
},
{
 "width": 932, "height": 62,
 "resolve": {"axis": {"x": "independent", "y": "independent"}},
 "layer": [
  {"data": {"name": "ob"}, "mark": {"type": "area", "color": "#a9b8f2", "opacity": 0.9},
   "encoding": {
    "x": {"field": "i", "type": "quantitative", "scale": {"domain": [-2.27, 124.65], "nice": false, "zero": false}, "axis": {"orient": "bottom", "values": [0,10,19,28,37,47,57,67,77,86,96,106,116], "labels": false, "grid": true, "title": null}},
    "y": {"field": "rsi", "type": "quantitative", "scale": {"domain": [26.8, 84.6], "nice": false, "zero": false}, "axis": {"orient": "right", "values": [40,60,80], "labelExpr": "datum.value == 60 ? '' : format(datum.value, '.2f')", "grid": true, "title": null, "labelPadding": 9}},
    "y2": {"datum": 70}, "detail": {"field": "seg"}}},
  {"data": {"values": [{}]}, "mark": {"type": "rule", "color": "#3f5fdc", "strokeWidth": 1}, "encoding": {"y": {"datum": 70, "type": "quantitative", "scale": {"domain": [26.8, 84.6], "nice": false, "zero": false}, "axis": null}}},
  {"data": {"values": [{}]}, "mark": {"type": "rule", "color": "#777777", "strokeWidth": 1, "strokeDash": [6,3,1,3]}, "encoding": {"y": {"datum": 50, "type": "quantitative", "scale": {"domain": [26.8, 84.6], "nice": false, "zero": false}, "axis": null}}},
  {"data": {"values": [{}]}, "mark": {"type": "rule", "color": "#e07b7b", "strokeWidth": 1.5}, "encoding": {"y": {"datum": 30, "type": "quantitative", "scale": {"domain": [26.8, 84.6], "nice": false, "zero": false}, "axis": null}}},
  {"data": {"name": "osc"}, "mark": {"type": "line", "color": "#1fa74c", "strokeWidth": 1.6}, "encoding": {"x": {"field": "i", "type": "quantitative", "scale": {"domain": [-2.27, 124.65], "nice": false, "zero": false}, "axis": null}, "y": {"field": "rsi", "type": "quantitative", "scale": {"domain": [26.8, 84.6], "nice": false, "zero": false}, "axis": null}}},
  {"data": {"name": "ob"}, "mark": {"type": "line", "color": "#2148de", "strokeWidth": 1.8}, "encoding": {"x": {"field": "i", "type": "quantitative", "scale": {"domain": [-2.27, 124.65], "nice": false, "zero": false}, "axis": null}, "y": {"field": "rsi", "type": "quantitative", "scale": {"domain": [26.8, 84.6], "nice": false, "zero": false}, "axis": null}, "detail": {"field": "seg"}}},
  {"data": {"name": "tags"}, "transform": [{"filter": {"field": "k", "oneOf": ["rsi"]}}],
   "mark": {"type": "point", "shape": "M-2.07,0L-1.6,-0.65L1.8,-0.65Q2,-0.65,2,-0.45L2,0.45Q2,0.65,1.8,0.65L-1.6,0.65Z", "size": 400, "filled": true, "opacity": 1, "strokeWidth": 0},
   "encoding": {"x": {"datum": 127.61, "type": "quantitative", "scale": {"domain": [-2.27, 124.65], "nice": false, "zero": false}, "axis": null}, "y": {"field": "v", "type": "quantitative", "scale": {"domain": [26.8, 84.6], "nice": false, "zero": false}, "axis": null},
    "color": {"field": "k", "type": "nominal", "legend": null, "scale": {"domain": ["ma100","bbu","last","ma50","bbm","ma10","ma200","rsi","hist","macd"], "range": ["#f2c12e","#1877e6","#16a34a","#1877e6","#16a34a","#8762c6","#f03a4c","#1aa64b","#7a1414","#111111"]}}}},
  {"data": {"name": "tags"}, "transform": [{"filter": {"field": "k", "oneOf": ["rsi"]}}],
   "mark": {"type": "text", "font": "Open Sans", "fontSize": 10, "fontWeight": "bold", "color": "white", "align": "center", "baseline": "middle"},
   "encoding": {"x": {"datum": 127.88, "type": "quantitative", "scale": {"domain": [-2.27, 124.65], "nice": false, "zero": false}, "axis": null}, "y": {"field": "v", "type": "quantitative", "scale": {"domain": [26.8, 84.6], "nice": false, "zero": false}, "axis": null}, "text": {"field": "t"}}}
 ]
},
{
 "width": 932, "height": 61,
 "resolve": {"axis": {"x": "independent", "y": "independent"}},
 "layer": [
  {"data": {"name": "osc"}, "mark": {"type": "bar", "width": 4.6},
   "encoding": {
    "x": {"field": "i", "type": "quantitative", "scale": {"domain": [-2.27, 124.65], "nice": false, "zero": false}, "axis": {"orient": "bottom", "values": [0,10,19,28,37,47,57,67,77,86,96,106,116], "labelExpr": "['May 15','May 30','Jun 12','Jun 26','Jul 10','Jul 24','Aug 7','Aug 21','Sep 5','Sep 18','Oct 2','Oct 16','Oct 30'][indexof([0,10,19,28,37,47,57,67,77,86,96,106,116], datum.value)]", "grid": true, "title": null, "labelPadding": 6, "labelFontSize": 10.5, "labelColor": "#555555"}},
    "y": {"field": "hist", "type": "quantitative", "scale": {"domain": [-10.6, 15.6], "nice": false, "zero": false}, "axis": {"orient": "right", "values": [-10, 10], "labelExpr": "format(datum.value, '.2f')", "grid": true, "title": null, "labelPadding": 9}},
    "y2": {"datum": 0},
    "color": {"condition": {"test": "datum.hist >= 0", "value": "#1fa6a8"}, "value": "#7b1111"}}},
  {"data": {"values": [{}]}, "mark": {"type": "rule", "color": "#8a6a6a", "strokeWidth": 1, "strokeDash": [4,3]}, "encoding": {"y": {"datum": 0, "type": "quantitative", "scale": {"domain": [-10.6, 15.6], "nice": false, "zero": false}, "axis": null}}},
  {"data": {"name": "ln"}, "mark": {"type": "line", "color": "#9b3cf0", "strokeWidth": 1.6}, "encoding": {"x": {"field": "i", "type": "quantitative", "scale": {"domain": [-2.27, 124.65], "nice": false, "zero": false}, "axis": null}, "y": {"field": "sig", "type": "quantitative", "scale": {"domain": [-10.6, 15.6], "nice": false, "zero": false}, "axis": null}}},
  {"data": {"name": "ln"}, "mark": {"type": "line", "color": "#111111", "strokeWidth": 1.6}, "encoding": {"x": {"field": "i", "type": "quantitative", "scale": {"domain": [-2.27, 124.65], "nice": false, "zero": false}, "axis": null}, "y": {"field": "macd", "type": "quantitative", "scale": {"domain": [-10.6, 15.6], "nice": false, "zero": false}, "axis": null}}},
  {"data": {"name": "tags"}, "transform": [{"filter": {"field": "k", "oneOf": ["hist"]}}],
   "mark": {"type": "point", "shape": "M-2.07,0L-1.6,-0.65L1.8,-0.65Q2,-0.65,2,-0.45L2,0.45Q2,0.65,1.8,0.65L-1.6,0.65Z", "size": 400, "filled": true, "opacity": 1, "strokeWidth": 0},
   "encoding": {"x": {"datum": 127.61, "type": "quantitative", "scale": {"domain": [-2.27, 124.65], "nice": false, "zero": false}, "axis": null}, "y": {"field": "v", "type": "quantitative", "scale": {"domain": [-10.6, 15.6], "nice": false, "zero": false}, "axis": null},
    "color": {"field": "k", "type": "nominal", "legend": null, "scale": {"domain": ["ma100","bbu","last","ma50","bbm","ma10","ma200","rsi","hist","macd"], "range": ["#f2c12e","#1877e6","#16a34a","#1877e6","#16a34a","#8762c6","#f03a4c","#1aa64b","#7a1414","#111111"]}}}},
  {"data": {"name": "tags"}, "transform": [{"filter": {"field": "k", "oneOf": ["hist"]}}],
   "mark": {"type": "text", "font": "Open Sans", "fontSize": 10, "fontWeight": "bold", "color": "white", "align": "center", "baseline": "middle"},
   "encoding": {"x": {"datum": 127.88, "type": "quantitative", "scale": {"domain": [-2.27, 124.65], "nice": false, "zero": false}, "axis": null}, "y": {"field": "v", "type": "quantitative", "scale": {"domain": [-10.6, 15.6], "nice": false, "zero": false}, "axis": null}, "text": {"field": "t"}}},
  {"data": {"name": "tags"}, "transform": [{"filter": {"field": "k", "oneOf": ["macd"]}}],
   "mark": {"type": "point", "shape": "M-2.07,0L-1.6,-0.65L1.8,-0.65Q2,-0.65,2,-0.45L2,0.45Q2,0.65,1.8,0.65L-1.6,0.65Z", "size": 400, "filled": true, "opacity": 1, "strokeWidth": 0},
   "encoding": {"x": {"datum": 127.61, "type": "quantitative", "scale": {"domain": [-2.27, 124.65], "nice": false, "zero": false}, "axis": null}, "y": {"field": "v", "type": "quantitative", "scale": {"domain": [-10.6, 15.6], "nice": false, "zero": false}, "axis": null},
    "color": {"field": "k", "type": "nominal", "legend": null, "scale": {"domain": ["ma100","bbu","last","ma50","bbm","ma10","ma200","rsi","hist","macd"], "range": ["#f2c12e","#1877e6","#16a34a","#1877e6","#16a34a","#8762c6","#f03a4c","#1aa64b","#7a1414","#111111"]}}}},
  {"data": {"name": "tags"}, "transform": [{"filter": {"field": "k", "oneOf": ["macd"]}}],
   "mark": {"type": "text", "font": "Open Sans", "fontSize": 10, "fontWeight": "bold", "color": "white", "align": "center", "baseline": "middle"},
   "encoding": {"x": {"datum": 127.88, "type": "quantitative", "scale": {"domain": [-2.27, 124.65], "nice": false, "zero": false}, "axis": null}, "y": {"field": "v", "type": "quantitative", "scale": {"domain": [-10.6, 15.6], "nice": false, "zero": false}, "axis": null}, "text": {"field": "t"}}}
 ]
}
]
}
